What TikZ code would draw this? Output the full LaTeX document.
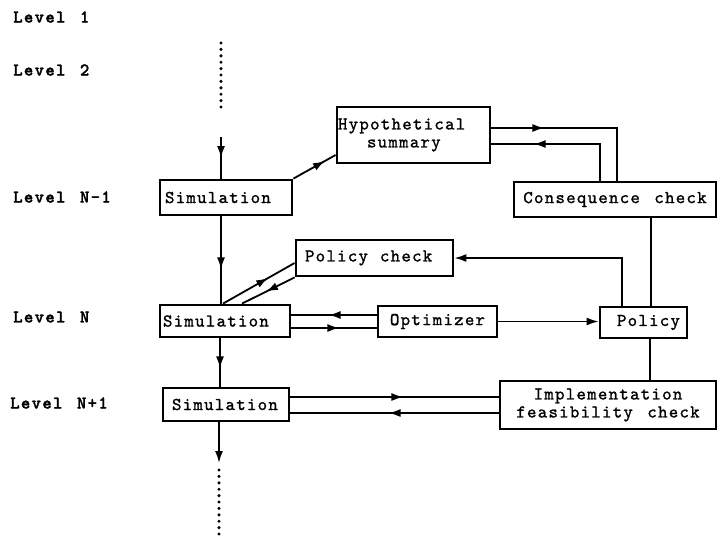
\documentclass[tikz,border=0pt]{standalone}
\usepackage{fontspec}
\newfontfamily\tw[LetterSpace=7,FakeBold=1.2,WordSpace=1.35]{lmmono10-regular.otf}
\newfontfamily\twb[LetterSpace=7,FakeBold=1.4,WordSpace=1.35]{lmmonolt10-bold.otf}
\usetikzlibrary{arrows.meta,decorations.markings}
\tikzset{
 box/.style={draw, line width=2.8pt, rectangle, inner sep=0pt, font=\fontsize{18}{18}\selectfont\tw},
 lvl/.style={anchor=west, inner sep=0pt, font=\fontsize{18}{18}\selectfont\twb},
 conn/.style={line width=1.8pt},
 tipat/.style={postaction={decorate}, decoration={markings, mark=at position #1 with {\arrow{Latex[length=12pt,width=8pt]}}}},
 endtip/.style={-{Latex[length=12pt,width=8pt]}},
 dots/.style={line width=3.4pt, line cap=round, dash pattern=on 0pt off 6.4pt},
}
\begin{document}
\begin{tikzpicture}[x=1pt,y=-1pt]
\useasboundingbox (0,0) rectangle (718,539);

% level labels
\node[lvl] (l1) at (13,17) {Level 1};
\node[lvl] (l2) at (13,70) {Level 2};
\node[lvl] (l3) at (13,197) {Level N-1};
\node[lvl] (l4) at (13,317) {Level N};
\node[lvl] (l5) at (10,403) {Level N+1};

% boxes
\node[box, minimum width=132pt, minimum height=35pt, text width=122pt, align=left] (sim1) at (226,197.5) {Simulation};
\node[box, minimum width=130pt, minimum height=32pt, text width=124pt, align=left] (sim2) at (225,321) {Simulation};
\node[box, minimum width=126pt, minimum height=33pt, text width=108pt, align=left] (sim3) at (226,404.5) {Simulation};
\node[box, minimum width=153pt, minimum height=56pt, text width=151pt, align=left] (hyp) at (413.5,135) {Hypothetical\\\hspace*{29pt}summary};
\node[box, minimum width=202pt, minimum height=35pt, align=center] (cons) at (615,199.5) {Consequence check};
\node[box, minimum width=157pt, minimum height=36pt, text width=139pt, align=left] (pc) at (374.5,258) {Policy\hspace{12pt}check};
\node[box, minimum width=119pt, minimum height=31pt, align=center] (opt) at (437.5,321.5) {Optimizer};
\node[box, minimum width=87pt, minimum height=31pt, text width=73pt, align=right] (pol) at (643.5,322.5) {Policy};
\node[box, minimum width=216pt, minimum height=48pt, align=center] (impl) at (608,405) {Implementation\\feasibility check};

% top dotted continuation
\coordinate (d1a) at (221,43);
\coordinate (d1b) at (221,113);
\draw[dots] (d1a) -- (d1b);
\coordinate (a1) at (221,137);
\draw[conn, tipat=21pt] (a1) -- (a1 |- sim1.north);

% N-1 level
\draw[conn, tipat=0.75] (sim1.north east) -- ([yshift=-20pt]hyp.west);
\draw[conn, tipat=53pt] ([yshift=7pt]hyp.east) -| ([xshift=2pt]cons.north);
\draw[conn, tipat=103pt] ([xshift=-15pt]cons.north) |- ([yshift=-9pt]hyp.east);
\draw[conn] ([xshift=36pt]cons.south) -- ([xshift=36pt]cons.south |- pol.north);

% policy connections
\draw[conn, endtip] ([xshift=-21.5pt]pol.north) |- (pc.east);
\draw[conn] ([xshift=6.5pt]pol.south) -- ([xshift=6.5pt]pol.south |- impl.north);

% vertical flow
\draw[conn, tipat=53pt] ([xshift=-5pt]sim1.south) -- ([xshift=-5pt]sim1.south |- sim2.north);
\draw[conn, tipat=30pt] ([xshift=-5pt]sim2.south) -- ([xshift=-5pt]sim2.south |- sim3.north);

% level N
\draw[conn, tipat=52pt] ([xshift=-2pt]sim2.north) -- ([yshift=-5pt]pc.west);
\draw[conn, tipat=32pt] (pc.south west) -- ([xshift=17pt]sim2.north);
\draw[conn, tipat=48pt] ([yshift=6.5pt]opt.west) -- ([yshift=6.5pt]opt.west -| sim2.east);
\draw[conn, tipat=48pt] ([yshift=-7pt]sim2.east) -- ([yshift=-7pt]sim2.east -| opt.west);
\draw[conn, endtip] (opt.east) -- (opt.east -| pol.west);

% level N+1
\draw[conn, tipat=113pt] ([yshift=7.5pt]sim3.east) -- ([yshift=7.5pt]sim3.east -| impl.west);
\draw[conn, tipat=110pt] ([yshift=-8pt]impl.west) -- ([yshift=-8pt]impl.west -| sim3.east);

% bottom continuation
\coordinate (a2) at (219,463);
\draw[conn, endtip] (a2 |- sim3.south) -- (a2);
\coordinate (d2a) at (219,470);
\coordinate (d2b) at (219,539);
\draw[dots] (d2a) -- (d2b);
\end{tikzpicture}
\end{document}
